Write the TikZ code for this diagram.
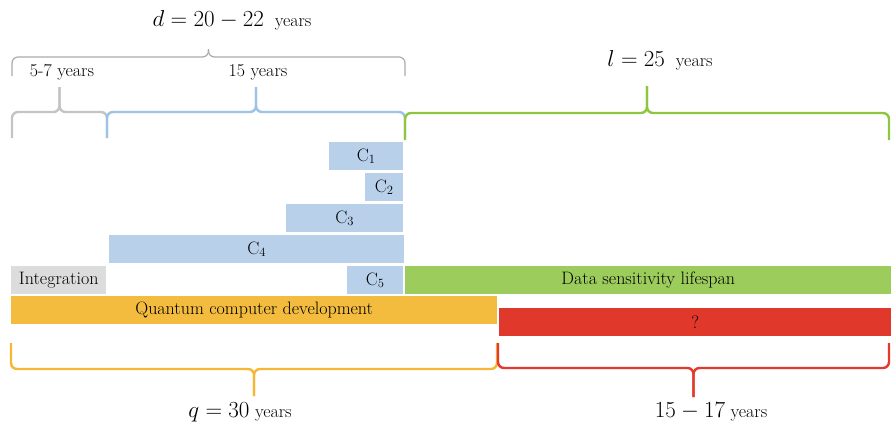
\documentclass[tikz,border=0pt]{standalone}
\usepackage{fix-cm}
\usepackage{fontspec}
\definecolor{cblue}{HTML}{B8D0EA}
\definecolor{bblue}{HTML}{9DC3E6}
\definecolor{cgray}{HTML}{DCDCDC}
\definecolor{bgray}{HTML}{C4C4C4}
\definecolor{dgray}{HTML}{ABABAB}
\definecolor{cgreen}{HTML}{9CCC5C}
\definecolor{bgreen}{HTML}{8DC63F}
\definecolor{corange}{HTML}{F4BC3E}
\definecolor{borange}{HTML}{F6B737}
\definecolor{cred}{HTML}{E0382A}
\definecolor{bred}{HTML}{E33A2D}

\begin{document}
\begin{tikzpicture}[x=1pt,y=-1pt,font=\fontsize{18}{21}\selectfont]
    \tikzstyle{bar}=[rectangle,anchor=north west,minimum height=28pt,inner sep=0pt,text=black]
    \tikzstyle{br}=[line width=2.4pt,rounded corners=6pt]
    \tikzstyle{lab}=[inner sep=0pt,text=black]
    \useasboundingbox (0,0) rectangle (891,426);

    % braces: x left / x right / y ends / y line / y tip / colour / width
    \foreach \xa/\xb/\ye/\yl/\yt/\col/\lw in {12/405/76/57/49/dgray/1.2pt,
        12/107/138/112/87/bgray/2.4pt, 107/405/138/112/87/bblue/2.4pt,
        405/889/140/113/86/bgreen/2.4pt, 11/497/343/369/396/borange/2.4pt,
        498/889/343/368/397/bred/2.4pt}{
      \draw[br,\col,line width=\lw] (\xa,\ye) -- (\xa,\yl) -- ({(\xa+\xb)/2},\yl) -- ({(\xa+\xb)/2},\yt);
      \draw[br,\col,line width=\lw] (\xb,\ye) -- (\xb,\yl) -- ({(\xa+\xb)/2},\yl) -- ({(\xa+\xb)/2},\yt);
    }

    % C bars
    \foreach \i/\xa/\w/\ya in {1/329/74/142, 2/365/38/173, 3/286/117/204, 4/109/295/235, 5/347/56/266}
      \node[bar,fill=cblue,minimum width=\w pt] (c\i) at (\xa,\ya) {C\textsubscript{\i}};

    \node[bar,fill=cgray,minimum width=95pt] (integ) at (11,266) {Integration};
    \node[bar,fill=cgreen,minimum width=486pt] (life) at (405,266) {Data sensitivity lifespan};
    \node[bar,fill=corange,minimum width=486pt] (qcd) at (11,296) {Quantum computer development};
    \node[bar,fill=cred,minimum width=392pt] (gap) at (499,308) {?};

    % labels
    \node[lab] (dlab) at (232,20) {{\fontsize{23}{27}\selectfont$d=20-22$}\ \ years};
    \node[lab] (ilab) at (62,72) {5-7 years};
    \node[lab] (blab) at (258,72) {15 years};
    \node[lab] (llab) at (660,60) {{\fontsize{23}{27}\selectfont$l=25$}\ \ years};
    \node[lab] (qlab) at (240,412) {{\fontsize{23}{27}\selectfont$q=30$} years};
    \node[lab] (rlab) at (711,412) {{\fontsize{23}{27}\selectfont$15-17$} years};
\end{tikzpicture}
\end{document}
